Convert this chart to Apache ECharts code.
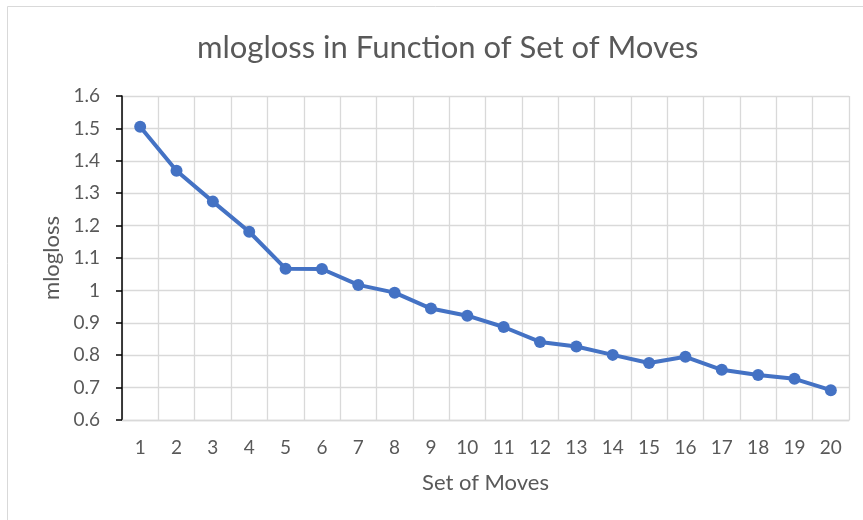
<!DOCTYPE html>
<html lang="en">
<head>
    <meta charset="UTF-8">
    <title>mlogloss in Function of Set of Moves</title>
    <style>
        html, body { margin: 0; padding: 0; background: #fff; }
        #container { width: 863px; height: 520px; }
    </style>
</head>
<body>
<div id="container"></div>
<script src="https://cdn.jsdelivr.net/npm/echarts@6/dist/echarts.min.js"></script>
<script>
    // data
    var moves = ['1','2','3','4','5','6','7','8','9','10','11','12','13','14','15','16','17','18','19','20'];
    var mlogloss = [1.505, 1.369, 1.274, 1.181, 1.067, 1.066, 1.017, 0.993, 0.944, 0.922,
                    0.887, 0.841, 0.827, 0.801, 0.776, 0.795, 0.755, 0.739, 0.727, 0.692];
    var yMin = 0.6, yMax = 1.6, yStep = 0.1;

    var textColor = '#595959';
    var gridColor = '#d9d9d9';
    var font = 'Lato';

    var myChart = echarts.init(document.getElementById('container'));
    var option = {
        animation: false,
        backgroundColor: '#fff',
        title: {
            text: 'mlogloss in Function of Set of Moves',
            left: 192,
            top: 27,
            textStyle: { color: textColor, fontSize: 31, fontWeight: 'normal', fontFamily: font }
        },
        // outer chart border
        graphic: [{
            type: 'rect',
            shape: { x: 7.5, y: 6.5, width: 900, height: 600 },
            style: { fill: null, stroke: gridColor, lineWidth: 1 },
            silent: true
        }],
        grid: { left: 122, right: 14, top: 96, bottom: 100 },
        xAxis: {
            type: 'category',
            data: moves,
            boundaryGap: true,
            name: 'Set of Moves',
            nameLocation: 'middle',
            nameGap: 52,
            nameTextStyle: { color: textColor, fontSize: 22, fontFamily: font },
            axisLine: { show: true, lineStyle: { color: gridColor, width: 1.3 } },
            axisTick: { show: false },
            axisLabel: { color: textColor, fontSize: 19, fontFamily: font, margin: 18, interval: 0 },
            splitLine: { show: true, interval: 0, lineStyle: { color: gridColor, width: 1.3 } }
        },
        yAxis: {
            type: 'value',
            min: yMin,
            max: yMax,
            interval: yStep,
            name: 'mlogloss',
            nameLocation: 'middle',
            nameGap: 56,
            nameTextStyle: { color: textColor, fontSize: 22, fontFamily: font },
            axisLine: { show: true, lineStyle: { color: '#000', width: 1.5 } },
            axisTick: { show: true, length: 6, lineStyle: { color: '#000', width: 1.5 } },
            axisLabel: {
                color: textColor, fontSize: 19, fontFamily: font, margin: 22,
                formatter: function (v) { return String(Math.round(v * 10) / 10); }
            },
            splitLine: { show: true, lineStyle: { color: gridColor, width: 1.3 } }
        },
        series: [{
            name: 'mlogloss',
            type: 'line',
            data: mlogloss,
            symbol: 'circle',
            symbolSize: 12,
            lineStyle: { color: '#4472C4', width: 4 },
            itemStyle: { color: '#4472C4' }
        }]
    };
    myChart.setOption(option);
</script>
</body>
</html>
